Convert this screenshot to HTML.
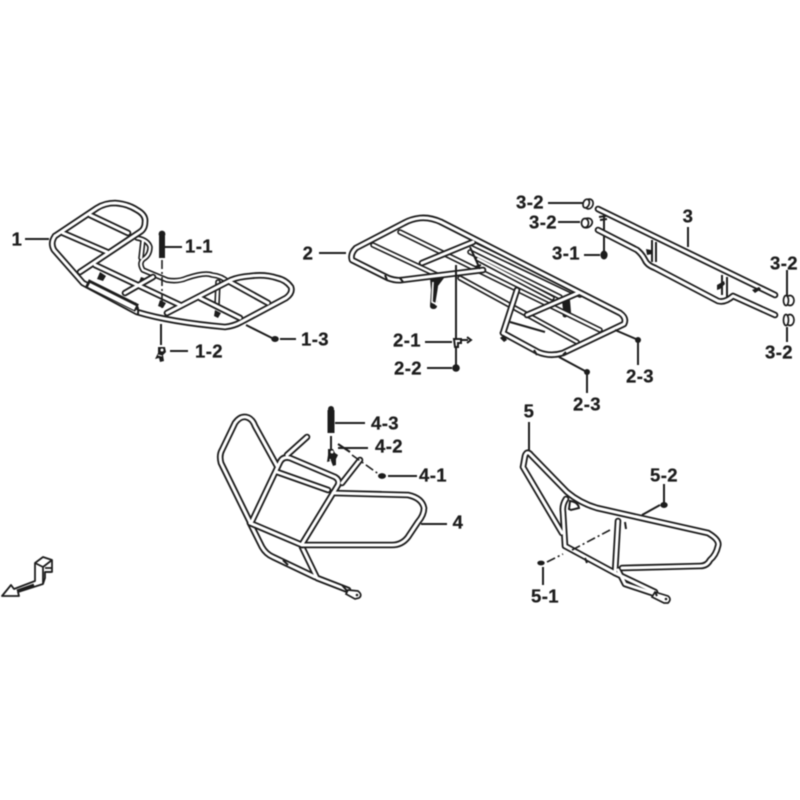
<!DOCTYPE html>
<html><head><meta charset="utf-8">
<style>
html,body{margin:0;padding:0;background:#fff}
svg{display:block;filter:blur(.4px)}
text{font-family:"Liberation Sans",sans-serif;font-weight:bold;font-size:18.5px;fill:#1c1c1c;stroke:#1c1c1c;stroke-width:.25;text-anchor:middle;letter-spacing:.4px}
.l{stroke:#1c1c1c;stroke-width:2;fill:none}
.d{stroke:#1c1c1c;stroke-width:1.6;fill:none;stroke-dasharray:9 3 2 3}
.k{fill:#1c1c1c}
.o{stroke:#1c1c1c;stroke-width:6.6;fill:none;stroke-linecap:round;stroke-linejoin:round}
.i{stroke:#fff;stroke-width:3;fill:none;stroke-linecap:round;stroke-linejoin:round}
.o2{stroke:#1c1c1c;stroke-width:5.6;fill:none;stroke-linecap:round;stroke-linejoin:round}
.i2{stroke:#fff;stroke-width:2.4;fill:none;stroke-linecap:round;stroke-linejoin:round}
</style></head><body>
<svg width="800" height="800" viewBox="0 0 800 800" xmlns="http://www.w3.org/2000/svg">
<rect width="800" height="800" fill="#fff"/>
<defs>
<g id="r1b">
<path d="M143 270L167 280Q178 282 187 278Q205 272 212 275Q222 276 228 282M137 238Q148 240 150 247Q150 254 145 258Q138 262 143 270"/>
<path d="M143 240L141 258M218 282L217 305"/>
</g>
<g id="r1a">
<path d="M63 233L107 252M90 215L128 233M95 265L180 305M200 298L240 318M230 282L268 303M125 293L153 277"/>
<path d="M55 236L97 208Q105 203 115 203Q128 204 137 210Q146 215 145 222Q145 229 140 232L80 272"/>
<path d="M55 236Q50 243 54 250L83 283L137 312Q170 322 225 327Q234 326 241 322L286 298Q293 293 291 287Q286 280 277 278Q265 274 250 276Q238 277 231 280L167 313"/>
</g>
<g id="r2b">
<path d="M400 232L600 330M460 278L577 342M473 244L580 295M470 252L560 297M478 259L552 298"/>
<path d="M373 245L437 275"/>
</g>
<g id="r2a">
<path d="M422 263L473 242M527 315L578 293"/>
<path d="M441 222Q430 217 420 218Q411 219 404 223L356 248Q350 254 352 260L388 278Q396 281 402 280L483 270"/>
<path d="M441 222L620 313Q627 318 624 324L563 353Q550 357 538 352L503 333"/>
<path d="M517 290L503 333"/>
</g>
<g id="r3">
<path d="M598 209L775 295"/>
<path d="M598 230L637 250Q642 254 645 260Q647 265 655 268L718 301Q725 303 733 296L775 315"/>
</g>
<g id="r4a">
<path d="M250 522L221 463Q219 455 222 450L235 423Q240 416 246 417Q252 418 255 426L277 466"/>
<path d="M287 455L307 437M342 483L360 460"/>
<path d="M252 521L280 462Q283 456 290 458L335 477Q340 480 338 485L302 544"/>
<path d="M277 472L328 490"/>
<path d="M333 493L408 495Q422 498 424 508Q424 515 418 522L408 537Q402 545 392 545L302 545"/>
<path d="M250 523L302 545"/>
</g>
<g id="r4b">
<path d="M250 523L262 547Q266 554 273 557L315 577"/>
<path d="M302 547L317 578L348 590"/>
</g>
<g id="r5">
<path d="M562 533L523 467L525 456Q527 450 531 455L567 492Q580 503 597 508L708 533Q720 540 718 546Q716 555 710 560Q707 566 700 566L622 568"/>
<path d="M566 499Q562 505 563 512L565 546L615 573L655 592"/>
<path d="M618 521L615 573"/>
<path d="M618 570L625 584L655 594"/>
</g>
</defs>

<!-- Rack 1 -->
<use href="#r1b" class="o2"/><use href="#r1b" class="i2"/>
<path class="k" d="M100 272l6 4-3 5-6-2zM141 277l6 2-3 5-5-2zM160 300l6 3-3 5-5-2zM215 310l6 3-3 5-4-2z"/>
<use href="#r1a" class="o"/><use href="#r1a" class="i"/>
<path d="M87 283L137 308" stroke="#1c1c1c" stroke-width="8.5" fill="none"/><path d="M89 285L135 308" stroke="#fff" stroke-width="4.5" fill="none"/>
<path class="l" d="M135 303Q139 307 138 314"/>
<rect x="159" y="236" width="6" height="22" class="k"/><circle cx="162" cy="234" r="3.400" class="k"/>
<path class="d" d="M162 260V310"/><path class="l" d="M161 324V345"/>
<path class="l" d="M165 247H182M170 351H188M280 339H296M25 239H49"/>
<path class="l" d="M246 325L272 338" />
<ellipse cx="275" cy="339" rx="3.800" ry="3" class="k"/>
<path d="M158 347h7l1 5-3 3 1 6-4 1-1-4-4 1 3-6z" class="k"/><circle cx="162" cy="350" r="1.500" fill="#fff"/><path d="M158 355l4 1" stroke="#fff" stroke-width="1"/>

<!-- Rack 2 -->
<path class="k" d="M430 278h14l-6 8-1 20c0 4-7 4-7 0l1-16zM562 301l8-1 1 12-1 4h-5l-2-6z"/>
<circle cx="437" cy="304" r="1.800" fill="#fff"/><circle cx="565" cy="315" r="2.500" class="k"/>
<path d="M433 282l-1 20 4 2 3-18" stroke="#fff" stroke-width="1.600" fill="none"/>
<use href="#r2b" class="o2"/><use href="#r2b" class="i2"/>
<use href="#r2a" class="o"/><use href="#r2a" class="i"/>
<path class="l" d="M510 322L545 332M385 275l2 5M400 278l3 4M534 350l3 5M566 352l-3 3M470 247l10 22M475 267l6-2"/>
<path class="k" d="M504 335l3 5-3 2-4-4z"/>
<path class="l" d="M456 265V339M456 348V368M319 253H346M425 342H452M427 368H452"/>
<path class="l" d="M456 340h12M467 337l4 3-4 3" /><path d="M454 339h7v4h-3v4h-3z" fill="#fff" stroke="#1c1c1c" stroke-width="2"/>
<circle cx="456" cy="368" r="3.800" class="k"/>
<path class="l" d="M559 357L585 371M587 373V393M615 330L636 339M638 341V365"/>
<circle cx="587" cy="372" r="3" class="k"/><circle cx="638" cy="340" r="3" class="k"/>

<!-- Part 3 -->
<path class="l" d="M652 240V262M656 242V262M722 275V295M727 277V297M604 215V252M548 203H583M558 222H580M584 255H600M688 227V247M787 270V296M787 327V342"/>
<use href="#r3" class="o"/><use href="#r3" class="i"/>
<path class="k" d="M646 249l5 1 1 4-5 1zM717 285l7-4 1 3-5 5-3 1zM752 290l7-3 2 2-6 4z"/>
<path class="l" d="M599 217l7-1M600 220l7-1"/>
<ellipse cx="604" cy="255" rx="3.600" ry="4.500" class="k"/>
<ellipse cx="589" cy="204" rx="4" ry="5" fill="#fff" stroke="#1c1c1c" stroke-width="1.700" transform="rotate(20 589 204)"/><ellipse cx="586" cy="203.500" rx="3" ry="4.500" fill="#fff" stroke="#1c1c1c" stroke-width="1.700" transform="rotate(20 586 204)"/>
<ellipse cx="587" cy="223" rx="5.500" ry="4.500" fill="#fff" stroke="#1c1c1c" stroke-width="1.700" transform="rotate(-30 587 223)"/><ellipse cx="585" cy="223" rx="3.500" ry="4.500" fill="#fff" stroke="#1c1c1c" stroke-width="1.700"/>
<ellipse cx="790" cy="300.500" rx="4" ry="5" fill="#fff" stroke="#1c1c1c" stroke-width="1.700"/><ellipse cx="786" cy="300.500" rx="2.500" ry="5" fill="#fff" stroke="#1c1c1c" stroke-width="1.700"/>
<ellipse cx="790" cy="320" rx="4" ry="5.500" fill="#fff" stroke="#1c1c1c" stroke-width="1.700"/><ellipse cx="786" cy="320" rx="2.500" ry="5.500" fill="#fff" stroke="#1c1c1c" stroke-width="1.700"/>

<!-- Part 4 -->
<use href="#r4b" class="o"/><use href="#r4b" class="i"/>
<use href="#r4a" class="o"/><use href="#r4a" class="i"/>
<path class="l" d="M338 444L350 452M283 560L288 565M342 585L348 592"/>
<path class="d" d="M352 455L380 475"/>
<path d="M348 590L358 591Q363 595 359 598L355 599L346 594z" fill="#fff" stroke="#1c1c1c" stroke-width="1.700"/><circle cx="357" cy="595" r="1.300" class="k"/>
<rect x="327.500" y="410" width="7" height="23" class="k"/><circle cx="331" cy="409" r="3" class="k"/>
<path class="l" d="M331 436V449M338 448H368M335 423H365M388 476H417M421 524H447"/>
<path d="M328 449h5l2 4 3 2-2 4v6l-3 1-2-5-4 1 1-7z" class="k"/><circle cx="332" cy="452" r="1.500" fill="#fff"/>
<path d="M330 459l1 5" stroke="#fff" stroke-width="1.200"/>
<ellipse cx="382" cy="476" rx="4" ry="2.900" class="k"/>

<!-- Part 5 -->
<use href="#r5" class="o"/><use href="#r5" class="i"/>
<path d="M655 592L668 596Q672 599 668 603L664 603L652 597z" fill="#fff" stroke="#1c1c1c" stroke-width="1.700"/><circle cx="666" cy="599" r="1.300" class="k"/>
<path class="l" d="M570 501q8 1 9 7l-8 2-2-1zM625 522l1 7M585 558l2 5M655 592l2 4"/>
<path class="d" d="M547 562L563 554M572 550L610 530"/>
<path class="l" d="M529 422V450M543 567V585M664 484V503M642 515L660 505"/>
<ellipse cx="541" cy="563" rx="3.700" ry="2.400" class="k"/><ellipse cx="664" cy="505" rx="3.700" ry="3" class="k"/>

<!-- direction icon -->
<g fill="#fff" stroke="#1c1c1c" stroke-width="1.800" stroke-linejoin="round">
<path d="M2 596L11 585L14 589L35 581L35 563L43 557L52 560L52 572L45 572L45 578L43 584L18 592L19 596L10 596z"/>
<path d="M35 563L43 567L52 560M43 567V584M45 568l7 0M45 572l6 0" fill="none"/>
<path d="M17 591L34 585" fill="none" stroke-width="3"/>
</g>

<!-- labels -->
<text x="17" y="245.500">1</text><text x="199" y="252.500">1-1</text><text x="209" y="357.500">1-2</text><text x="315" y="345.500">1-3</text>
<text x="308" y="259.500">2</text><text x="407" y="346.500">2-1</text><text x="408" y="374.500">2-2</text><text x="587" y="410.500">2-3</text><text x="640" y="382.500">2-3</text>
<text x="530" y="208.500">3-2</text><text x="543" y="228.500">3-2</text><text x="566" y="259.500">3-1</text><text x="688" y="222.500">3</text><text x="784" y="269.500">3-2</text><text x="779" y="358.500">3-2</text>
<text x="458" y="528.500">4</text><text x="433" y="481.500">4-1</text><text x="389" y="452.500">4-2</text><text x="385" y="429.500">4-3</text>
<text x="529" y="417.500">5</text><text x="545" y="602.500">5-1</text><text x="664" y="481.500">5-2</text>
</svg>
</body></html>
